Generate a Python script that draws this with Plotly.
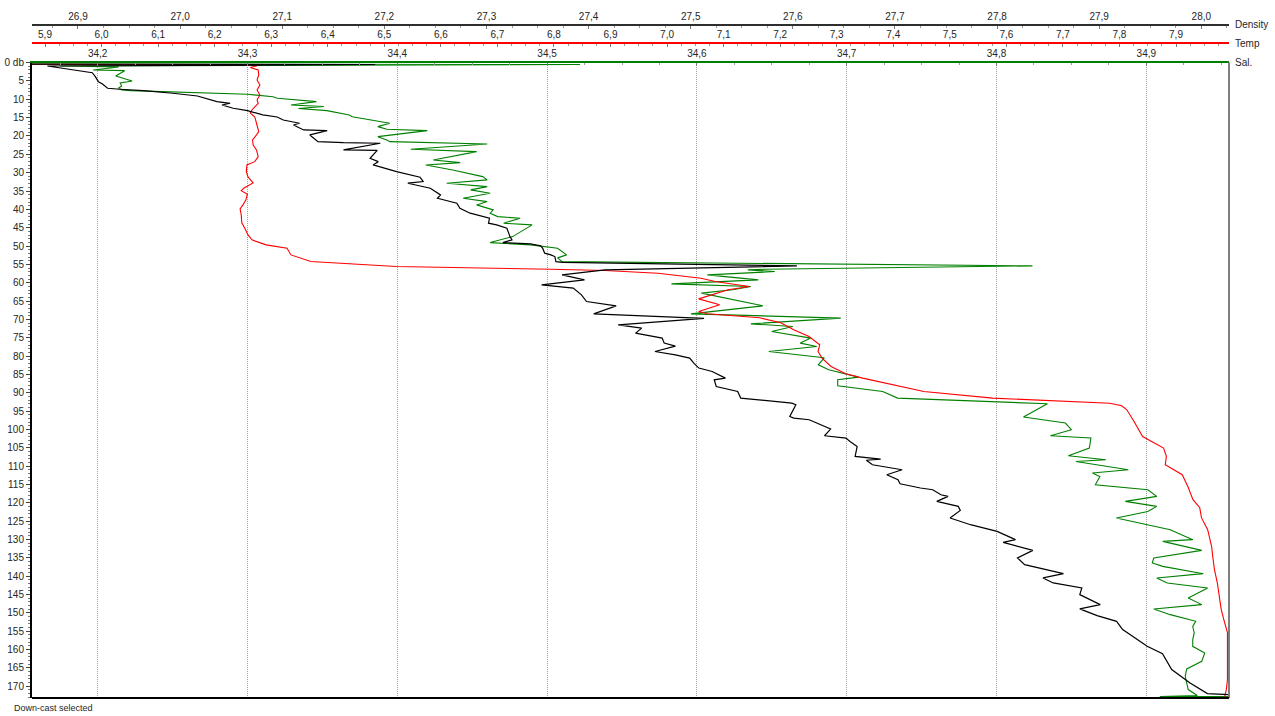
import plotly.graph_objects as go

# ---- CTD down-cast profile: pressure (db) against density, temperature, salinity ----

dens_depth = [0.38, 0.52, 0.93, 2.02, 2.75, 3.84, 5.20, 5.83, 7.00, 7.27, 7.65, 8.36, 9.10,
              10.65, 11.09, 11.55, 12.45, 13.10, 13.73, 14.27, 14.82, 15.64, 16.53, 17.00,
              18.36, 18.55, 19.72, 21.55, 21.82, 21.98, 23.81, 23.90, 26.07, 27.00, 27.90,
              29.72, 31.24, 32.44, 32.88, 34.24, 36.07, 36.97, 38.33, 39.69, 41.05, 42.41,
              43.78, 44.24, 45.14, 47.43, 48.32, 49.06, 49.41, 49.96, 50.59, 51.95, 52.41,
              52.87, 54.24, 54.45, 55.41, 56.50, 57.86, 59.23, 60.59, 61.48, 63.31, 65.13,
              66.30, 68.48, 69.71, 71.48, 72.38, 73.74, 75.10, 76.46, 77.28, 78.75, 79.65,
              80.55, 81.91, 83.27, 84.20, 86.00, 86.46, 88.29, 89.65, 91.45, 92.81, 93.27,
              96.46, 96.89, 97.36, 98.72, 99.89, 101.72, 102.34, 103.27, 104.63, 107.36,
              108.06, 108.39, 109.62, 110.98, 112.34, 113.70, 114.79, 115.96, 116.43, 117.79,
              118.25, 119.61, 120.97, 122.06, 124.13, 125.96, 127.78, 130.04, 130.78, 132.96,
              135.03, 136.86, 139.31, 140.48, 141.84, 143.20, 145.03, 147.75, 148.92, 150.75,
              152.30, 154.56, 157.29, 159.11, 161.10, 165.46, 169.08, 172.00, 172.68]
density = [26.800, 27.191, 26.870, 26.895, 26.914, 26.917, 26.920, 26.924, 26.929, 26.941,
           26.964, 26.993, 27.017, 27.036, 27.049, 27.041, 27.052, 27.066, 27.073, 27.081,
           27.095, 27.101, 27.117, 27.111, 27.121, 27.144, 27.127, 27.135, 27.160, 27.196,
           27.160, 27.193, 27.186, 27.194, 27.189, 27.212, 27.235, 27.238, 27.223, 27.245,
           27.255, 27.252, 27.271, 27.274, 27.284, 27.303, 27.302, 27.310, 27.320, 27.323,
           27.325, 27.316, 27.343, 27.353, 27.355, 27.357, 27.363, 27.367, 27.368, 27.375,
           27.604, 27.416, 27.374, 27.396, 27.354, 27.385, 27.393, 27.398, 27.427, 27.405,
           27.513, 27.429, 27.452, 27.446, 27.472, 27.474, 27.485, 27.465, 27.485, 27.499,
           27.503, 27.508, 27.521, 27.534, 27.523, 27.525, 27.546, 27.549, 27.599, 27.603,
           27.597, 27.601, 27.616, 27.627, 27.637, 27.631, 27.652, 27.656, 27.663, 27.661,
           27.686, 27.672, 27.678, 27.707, 27.692, 27.703, 27.705, 27.725, 27.737, 27.745,
           27.752, 27.741, 27.762, 27.764, 27.754, 27.774, 27.800, 27.818, 27.806, 27.835,
           27.820, 27.827, 27.865, 27.845, 27.855, 27.883, 27.881, 27.901, 27.881, 27.898,
           27.917, 27.923, 27.937, 27.947, 27.962, 27.971, 27.989, 28.006, 28.060]

temp_depth = [0.40, 0.65, 1.33, 2.02, 3.38, 4.74, 6.10, 7.47, 8.83, 10.19, 11.09, 12.91,
              13.73, 14.82, 16.53, 18.82, 19.72, 21.08, 22.44, 23.81, 25.63, 27.00, 27.90,
              29.72, 31.16, 32.80, 34.16, 34.90, 35.88, 37.43, 38.79, 39.88, 41.52, 43.69,
              45.33, 46.96, 48.32, 49.14, 49.69, 50.59, 52.42, 54.24, 55.60, 56.31, 56.69,
              57.40, 58.76, 59.68, 61.05, 61.94, 64.40, 66.03, 67.86, 68.48, 69.57, 70.93,
              72.84, 74.67, 76.93, 78.75, 80.55, 82.84, 84.83, 86.00, 88.10, 89.65, 91.45,
              92.86, 93.54, 94.63, 97.36, 101.91, 105.07, 107.35, 109.62, 112.34, 115.53,
              119.15, 121.33, 124.05, 127.32, 131.95, 134.68, 138.22, 141.76, 145.57, 149.11,
              152.65, 155.38, 160.01, 164.09, 168.18, 170.90, 172.81]
temperature = [5.800, 6.280, 6.263, 6.277, 6.278, 6.275, 6.280, 6.275, 6.280, 6.275, 6.277,
               6.266, 6.263, 6.271, 6.274, 6.278, 6.274, 6.267, 6.268, 6.274, 6.277, 6.271,
               6.257, 6.256, 6.259, 6.268, 6.252, 6.247, 6.258, 6.255, 6.250, 6.245, 6.247,
               6.248, 6.254, 6.259, 6.266, 6.280, 6.291, 6.328, 6.335, 6.370, 6.521, 6.795,
               6.890, 6.984, 7.060, 7.085, 7.145, 7.108, 7.056, 7.093, 7.056, 7.071, 7.164,
               7.201, 7.224, 7.251, 7.270, 7.267, 7.274, 7.290, 7.316, 7.346, 7.408, 7.454,
               7.576, 7.783, 7.804, 7.813, 7.824, 7.841, 7.878, 7.883, 7.881, 7.911, 7.921,
               7.930, 7.942, 7.945, 7.956, 7.963, 7.965, 7.968, 7.973, 7.977, 7.980, 7.986,
               7.991, 7.991, 7.991, 7.991, 7.989, 7.986]

sal_depth = [0.38, 0.52, 0.93, 1.20, 2.02, 2.20, 3.65, 5.01, 5.56, 6.37, 6.92, 7.46, 7.65,
             8.09, 8.64, 9.29, 9.73, 10.65, 11.55, 11.96, 12.50, 13.10, 14.27, 14.74, 15.64,
             16.53, 17.46, 18.17, 18.55, 20.19, 21.08, 21.55, 22.17, 23.62, 24.27, 26.53,
             27.27, 27.90, 29.27, 31.08, 31.98, 32.88, 33.81, 34.70, 35.60, 36.97, 37.89,
             38.79, 40.15, 41.05, 41.98, 42.41, 43.78, 44.24, 47.43, 49.06, 49.69, 50.59,
             52.41, 53.23, 54.24, 55.41, 56.31, 56.50, 56.96, 57.86, 59.23, 60.32, 61.05,
             61.94, 62.84, 66.30, 68.48, 69.65, 71.21, 71.94, 73.30, 75.10, 76.46, 77.39,
             78.75, 80.47, 82.38, 83.74, 85.73, 86.46, 88.10, 89.65, 91.45, 93.00, 96.62,
             98.26, 100.08, 101.72, 102.34, 105.07, 107.16, 108.26, 108.72, 110.98, 111.88,
             112.80, 115.06, 116.43, 118.25, 119.61, 120.97, 122.34, 124.13, 125.96, 127.32,
             130.04, 130.51, 132.96, 135.03, 136.39, 137.32, 139.31, 140.48, 141.84, 143.20,
             145.93, 147.75, 148.92, 150.48, 152.30, 153.67, 155.46, 157.29, 159.11, 160.91,
             163.20, 165.27, 167.28, 170.90, 172.54, 172.81, 172.85]
salinity = [34.100, 34.522, 34.175, 34.214, 34.197, 34.218, 34.212, 34.223, 34.215, 34.216,
            34.214, 34.216, 34.222, 34.255, 34.300, 34.317, 34.320, 34.346, 34.329, 34.351,
            34.334, 34.353, 34.368, 34.370, 34.382, 34.395, 34.387, 34.393, 34.420, 34.387,
            34.393, 34.395, 34.460, 34.409, 34.453, 34.424, 34.442, 34.419, 34.437, 34.457,
            34.460, 34.433, 34.460, 34.449, 34.462, 34.444, 34.460, 34.453, 34.464, 34.462,
            34.467, 34.482, 34.471, 34.490, 34.477, 34.462, 34.489, 34.507, 34.513, 34.507,
            34.510, 34.824, 34.646, 34.634, 34.652, 34.607, 34.641, 34.583, 34.636, 34.624,
            34.603, 34.644, 34.596, 34.696, 34.636, 34.664, 34.650, 34.676, 34.669, 34.680,
            34.648, 34.685, 34.681, 34.688, 34.708, 34.694, 34.694, 34.724, 34.734, 34.834,
            34.818, 34.846, 34.850, 34.836, 34.863, 34.862, 34.848, 34.873, 34.853, 34.888,
            34.864, 34.869, 34.866, 34.901, 34.907, 34.886, 34.907, 34.901, 34.880, 34.901,
            34.916, 34.931, 34.911, 34.937, 34.905, 34.904, 34.911, 34.938, 34.907, 34.914,
            34.941, 34.928, 34.937, 34.905, 34.916, 34.933, 34.931, 34.932, 34.931, 34.931,
            34.939, 34.937, 34.927, 34.926, 34.928, 34.934, 34.909, 35.000]

depth_ticks = list(range(0, 171, 5))
depth_labels = ["0 db"] + [str(v) for v in depth_ticks[1:]]
axis_names = ["Density", "Temp", "Sal."]

# ---- layout geometry ----
W, H = 1275, 716
M_L, M_R, M_T, M_B = 32, 46, 5, 18
PLOT_H = H - M_T - M_B
PLOT_TOP = 1 - (62.6 - M_T) / PLOT_H     # top of the depth axis (paper fraction)
TEMP_POS = 1 - (43.3 - M_T) / PLOT_H
DENS_POS = 1 - (24.5 - M_T) / PLOT_H

FONT = "Liberation Sans, Arial, Helvetica, sans-serif"
TXT = "#262626"

fig = go.Figure()
fig.add_trace(go.Scatter(x=salinity, y=sal_depth, xaxis="x", yaxis="y", mode="lines",
                         line=dict(color="#008000", width=1.1), name="Sal.",
                         hoverinfo="x+y"))
fig.add_trace(go.Scatter(x=density, y=dens_depth, xaxis="x3", yaxis="y", mode="lines",
                         line=dict(color="#000000", width=1.2), name="Density",
                         hoverinfo="x+y"))
fig.add_trace(go.Scatter(x=temperature, y=temp_depth, xaxis="x2", yaxis="y", mode="lines",
                         line=dict(color="#ff0000", width=1.1), name="Temp",
                         hoverinfo="x+y"))

top_axis = dict(side="top", dtick=0.1, tickformat=".1f", ticks="inside", ticklen=3,
                tickwidth=1, showgrid=False, zeroline=False, showline=True,
                automargin=False,
                tickfont=dict(family=FONT, size=10, color=TXT), fixedrange=True)
minor_ticks = dict(dtick=0.025, ticks="inside", ticklen=2, tickcolor="#9a9a9a")

fig.update_layout(
    width=W, height=H,
    margin=dict(l=M_L, r=M_R, t=M_T, b=M_B, pad=0, autoexpand=False),
    paper_bgcolor="white", plot_bgcolor="white",
    separators=", ",
    showlegend=False,
    font=dict(family=FONT, size=10, color=TXT),
    xaxis=dict(top_axis, anchor="y", range=[34.15614, 34.95521],
               linecolor="#008000", linewidth=2, tickcolor="#7a7a7a", minor=minor_ticks,
               showgrid=True, gridcolor="#a0a0a0", gridwidth=1, griddash="1px,1px"),
    xaxis2=dict(top_axis, overlaying="x", anchor="free", position=TEMP_POS,
                range=[5.87701, 7.99372], linecolor="#ff0000", linewidth=2,
                tickcolor="#7a7a7a", minor=minor_ticks),
    xaxis3=dict(top_axis, overlaying="x", anchor="free", position=DENS_POS,
                range=[26.85496, 28.02712], linecolor="#2e2e2e", linewidth=2,
                tickcolor="#7a7a7a", minor=minor_ticks),
    yaxis=dict(domain=[0, PLOT_TOP], range=[173.2, 0], tickvals=depth_ticks,
               ticktext=depth_labels, ticks="outside", ticklen=4, tickwidth=1,
               tickcolor="#444444", showline=True, linecolor="#000000", linewidth=2,
               showgrid=False, zeroline=False, fixedrange=True, automargin=False,
               tickfont=dict(family=FONT, size=10, color=TXT),
               minor=dict(dtick=1, ticks="outside", ticklen=2, tickcolor="#777777")),
)

# frame: grey right edge and black bottom edge
fig.add_shape(type="line", xref="paper", yref="paper", x0=1, x1=1, y0=0, y1=PLOT_TOP,
              line=dict(color="#7f7f7f", width=2))
fig.add_shape(type="line", xref="paper", yref="paper", x0=0, x1=1, y0=0, y1=0,
              line=dict(color="#000000", width=2))

# axis names to the right of each top axis
for name, ypos in zip(axis_names, [DENS_POS, TEMP_POS, PLOT_TOP]):
    fig.add_annotation(text=name, xref="paper", yref="paper", x=1, y=ypos, xshift=4,
                       xanchor="left", yanchor="middle", showarrow=False,
                       font=dict(family=FONT, size=10, color=TXT))

fig.add_annotation(text="Down-cast selected", xref="paper", yref="paper",
                   x=-20 / (W - M_L - M_R), y=-10 / PLOT_H,
                   xanchor="left", yanchor="middle", showarrow=False,
                   font=dict(family=FONT, size=9, color=TXT))

fig.write_html("out.html")
